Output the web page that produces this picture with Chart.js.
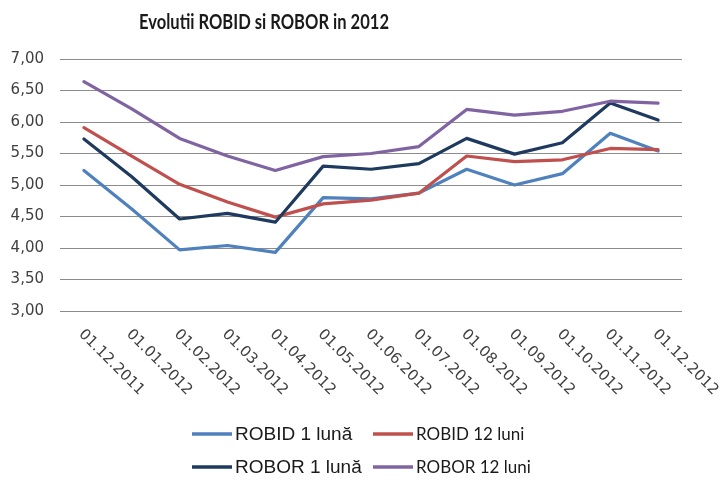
<!DOCTYPE html>
<html>
<head>
<meta charset="utf-8">
<script src="https://cdn.jsdelivr.net/npm/chart.js@4/dist/chart.umd.min.js"></script>
<style>
html,body{margin:0;padding:0;background:#fff;}
#wrap{width:724px;height:481px;position:relative;}
</style>
</head>
<body>
<div id="wrap"><canvas id="c"></canvas></div>
<script>
const chartTitle = 'Evolutii ROBID si ROBOR in 2012';
const categories = ['01.12.2011','01.01.2012','01.02.2012','01.03.2012','01.04.2012','01.05.2012','01.06.2012','01.07.2012','01.08.2012','01.09.2012','01.10.2012','01.11.2012','01.12.2012'];
const seriesNames = ['ROBID 1 lună','ROBID 12 luni','ROBOR 1 lună','ROBOR 12 luni'];
const robid1  = [5.23,4.62,3.97,4.04,3.93,4.80,4.78,4.87,5.25,5.00,5.18,5.82,5.54];
const robid12 = [5.91,5.46,5.01,4.73,4.49,4.70,4.76,4.87,5.46,5.37,5.40,5.58,5.56];
const robor1  = [5.73,5.13,4.46,4.55,4.41,5.30,5.25,5.34,5.74,5.49,5.67,6.30,6.03];
const robor12 = [6.64,6.21,5.74,5.46,5.23,5.45,5.50,5.61,6.20,6.11,6.17,6.33,6.30];
const yMin = 3, yMax = 7, yStep = 0.5;

const colors = ['#4F81BD','#C0504D','#1F3A5F','#8064A2'];
const seriesValues = [robid1, robid12, robor1, robor12];

const decorPlugin = {
  id: 'decor',
  afterDraw(chart) {
    const ctx = chart.ctx;
    const xs = chart.scales.x;
    const bottom = chart.chartArea.bottom;
    // title (condensed to mimic Calibri)
    ctx.save();
    ctx.fillStyle = '#1a1a1a';
    ctx.font = 'bold 20px Lato';
    ctx.textAlign = 'center';
    ctx.textBaseline = 'alphabetic';
    const tw = ctx.measureText(chartTitle).width;
    const sx = 250 / tw;
    ctx.translate(264, 29);
    ctx.scale(sx, 1);
    ctx.fillText(chartTitle, 0, 0);
    ctx.restore();
    // x labels rotated clockwise
    ctx.save();
    ctx.fillStyle = '#404040';
    ctx.font = '15px "DejaVu Sans"';
    ctx.textAlign = 'left';
    ctx.textBaseline = 'middle';
    chart.data.labels.forEach((lab, i) => {
      const x = xs.getPixelForValue(i);
      ctx.save();
      ctx.translate(x - 3, bottom + 21);
      ctx.rotate(Math.PI / 4);
      ctx.fillText(lab, 0, 0);
      ctx.restore();
    });
    ctx.restore();
    // legend 2x2
    const slots = [
      {lx: 192, ly: 434, font: '19px "Liberation Sans"'},
      {lx: 373, ly: 434, font: '17px Lato'},
      {lx: 192, ly: 467, font: '19px "Liberation Sans"'},
      {lx: 373, ly: 467, font: '17px Lato'}
    ];
    chart.data.datasets.forEach((ds, i) => {
      const s = slots[i];
      ctx.save();
      ctx.strokeStyle = ds.borderColor;
      ctx.lineWidth = 3.5;
      ctx.beginPath();
      ctx.moveTo(s.lx, s.ly);
      ctx.lineTo(s.lx + 40, s.ly);
      ctx.stroke();
      ctx.fillStyle = '#1a1a1a';
      ctx.font = s.font;
      ctx.textAlign = 'left';
      ctx.textBaseline = 'middle';
      ctx.fillText(ds.label, s.lx + 43, s.ly + 1);
      ctx.restore();
    });
  }
};

new Chart(document.getElementById('c'), {
  type: 'line',
  data: {
    labels: categories,
    datasets: seriesNames.map((name, i) => ({
      label: name,
      data: seriesValues[i],
      borderColor: colors[i],
      backgroundColor: colors[i],
      borderWidth: 3.2,
      pointRadius: 0,
      tension: 0,
      borderJoinStyle: 'round',
      borderCapStyle: 'round',
      fill: false,
      order: 3 - i
    }))
  },
  options: {
    responsive: true,
    maintainAspectRatio: false,
    animation: false,
    layout: {padding: {top: 59, right: 42, left: 0, bottom: 0}},
    plugins: {legend: {display: false}, title: {display: false}, tooltip: {enabled: false}},
    scales: {
      x: {
        type: 'category',
        offset: true,
        grid: {display: false},
        border: {display: false},
        ticks: {display: false},
        afterFit(s) { s.height = 170; }
      },
      y: {
        min: yMin, max: yMax,
        grid: {color: '#8c8c8c', lineWidth: 1, drawTicks: false},
        border: {display: false},
        ticks: {
          stepSize: yStep,
          padding: 16,
          color: '#404040',
          font: {family: 'DejaVu Sans', size: 15},
          callback: v => v.toFixed(2).replace('.', ',')
        },
        afterFit(s) { s.width = 60; }
      }
    }
  },
  plugins: [decorPlugin]
});
</script>
</body>
</html>
